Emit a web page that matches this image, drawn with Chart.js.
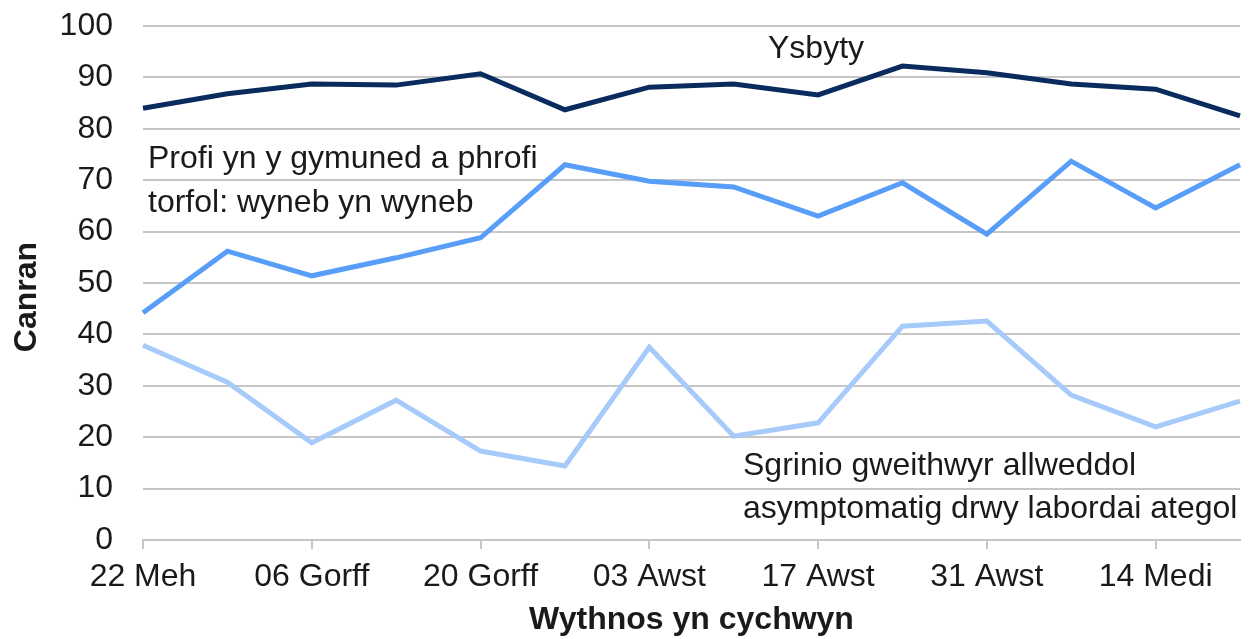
<!DOCTYPE html>
<html>
<head>
<meta charset="utf-8">
<script src="https://cdn.jsdelivr.net/npm/chart.js@4"></script>
<style>
  html, body { margin: 0; padding: 0; background: #fff; }
  #wrap { width: 1250px; height: 639px; }
</style>
</head>
<body>
<div id="wrap"><canvas id="chart" width="1250" height="639"></canvas></div>
<script>
const weeks = ['22 Meh', '29 Meh', '06 Gorff', '13 Gorff', '20 Gorff', '27 Gorff', '03 Awst',
  '10 Awst', '17 Awst', '24 Awst', '31 Awst', '07 Medi', '14 Medi', '21 Medi'];
const ysbyty = [84.0, 86.8, 88.7, 88.5, 90.7, 83.7, 88.1, 88.7, 86.6, 92.2, 90.9, 88.7, 87.7, 82.5];
const profi = [44.2, 56.2, 51.4, 54.9, 58.8, 73.0, 69.8, 68.7, 63.0, 69.5, 59.5, 73.7, 64.6, 73.0];
const sgrinio = [37.9, 30.7, 18.9, 27.2, 17.3, 14.4, 37.5, 20.2, 22.8, 41.6, 42.6, 28.2, 22.0, 27.0];
const yTicks = [0, 10, 20, 30, 40, 50, 60, 70, 80, 90, 100];

const FONT = '"Liberation Sans", Arial, sans-serif';
const TEXT = '#1a1a1a';
const GRID = '#c6c6c6';

// series labels and the y title sit inside the plot, drawn by hand
const labelPlugin = {
  id: 'seriesLabels',
  afterDraw(chart) {
    const ctx = chart.ctx;
    ctx.save();
    ctx.fillStyle = TEXT;
    ctx.font = '32px ' + FONT;
    ctx.textAlign = 'left';
    ctx.textBaseline = 'alphabetic';
    ctx.fillText('Ysbyty', 768, 58);
    ctx.fillText('Profi yn y gymuned a phrofi', 148, 168);
    ctx.fillText('torfol: wyneb yn wyneb', 148, 212);
    ctx.fillText('Sgrinio gweithwyr allweddol', 743, 475);
    ctx.fillText('asymptomatig drwy labordai ategol', 743, 518);

    ctx.font = 'bold 32px ' + FONT;
    ctx.translate(36, 297);
    ctx.rotate(-Math.PI / 2);
    ctx.textAlign = 'center';
    ctx.fillText('Canran', 0, 0);
    ctx.restore();
  }
};

new Chart(document.getElementById('chart'), {
  type: 'line',
  data: {
    labels: weeks,
    datasets: [
      { label: 'Ysbyty', data: ysbyty, borderColor: '#0a2b5e', borderWidth: 5, pointRadius: 0, tension: 0 },
      { label: 'Profi', data: profi, borderColor: '#589ef8', borderWidth: 5, pointRadius: 0, tension: 0 },
      { label: 'Sgrinio', data: sgrinio, borderColor: '#a6cbfa', borderWidth: 5, pointRadius: 0, tension: 0 }
    ]
  },
  options: {
    responsive: false,
    animation: false,
    layout: { padding: { top: 26, right: 10, left: 0, bottom: 0 } },
    plugins: { legend: { display: false }, tooltip: { enabled: false } },
    scales: {
      x: {
        offset: false,
        grid: { drawOnChartArea: false, drawTicks: true, tickLength: 9, color: GRID, lineWidth: 2 },
        border: { display: true, color: GRID, width: 2 },
        ticks: {
          autoSkip: false, maxRotation: 0, padding: 9, color: TEXT,
          font: { family: FONT, size: 32 },
          callback: function(v, i) { return i % 2 === 0 ? weeks[i] : null; }
        },
        title: {
          display: true, text: 'Wythnos yn cychwyn', color: TEXT,
          font: { family: FONT, size: 32, weight: 'bold' },
          padding: { top: 0, bottom: 0 }
        },
        afterFit: function(s) { s.height = 99; }
      },
      y: {
        min: 0, max: 100,
        afterBuildTicks: function(s) { s.ticks = yTicks.map(v => ({ value: v })); },
        grid: { drawTicks: true, tickLength: 26, tickColor: 'rgba(0,0,0,0)', color: GRID, lineWidth: 2 },
        border: { display: false },
        ticks: { padding: 4, color: TEXT, font: { family: FONT, size: 32 } },
        afterFit: function(s) { s.width = 143; }
      }
    }
  },
  plugins: [labelPlugin]
});
</script>
</body>
</html>
